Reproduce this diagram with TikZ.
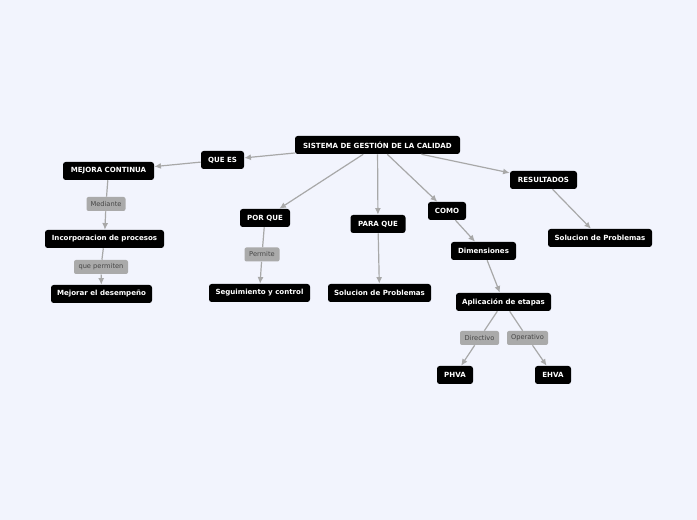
\documentclass[tikz,border=0pt]{standalone}
\usepackage{fontspec}
\setmainfont{DejaVu Sans}
\usetikzlibrary{arrows.meta}
\definecolor{bg}{RGB}{242,244,253}
\definecolor{edge}{RGB}{168,168,168}
\definecolor{lab}{RGB}{170,170,170}
\definecolor{labtxt}{RGB}{70,70,70}
\begin{document}
\begin{tikzpicture}[x=0.75pt,y=-0.75pt,
 box/.style={fill=black, rounded corners=2pt, text=white, font=\fontsize{5.3}{6}\selectfont\bfseries, minimum height=13.5pt, inner sep=0pt},
 lbl/.style={fill=lab, rounded corners=1.5pt, text=labtxt, font=\fontsize{5}{6}\selectfont, minimum height=10.5pt, inner sep=0pt},
 conn/.style={draw=edge, line width=0.9pt, -{Latex[length=5pt,width=4.5pt]}},
 plain/.style={draw=edge, line width=0.9pt}]
\path[fill=bg, use as bounding box] (0,0) rectangle (697,520);

\node[box, minimum width=123.75pt] (sgc) at (377.5,145) {SISTEMA DE GESTIÓN DE LA CALIDAD};
\node[box, minimum width=32.25pt] (quees) at (222.5,160) {QUE ES};
\node[box, minimum width=68.25pt] (mejora) at (108.5,171) {MEJORA CONTINUA};
\node[lbl, minimum width=29.25pt] (mediante) at (106,204) {Mediante};
\node[box, minimum width=89.25pt] (incorp) at (104.5,239) {Incorporacion de procesos};
\node[lbl, minimum width=40.5pt] (permiten) at (101,267) {que permiten};
\node[box, minimum width=75.75pt] (mejorar) at (101.5,294) {Mejorar el desempeño};

\node[box, minimum width=37.5pt] (porque) at (265,218) {POR QUE};
\node[lbl, minimum width=26.25pt] (permite) at (262,254.5) {Permite};
\node[box, minimum width=75.75pt] (seguim) at (259.5,293) {Seguimiento y control};

\node[box, minimum width=41.25pt] (paraque) at (378,224) {PARA QUE};
\node[box, minimum width=77.25pt] (sol1) at (379.5,293) {Solucion de Problemas};

\node[box, minimum width=28.5pt] (como) at (447,211) {COMO};
\node[box, minimum width=48.75pt] (dim) at (483.5,251) {Dimensiones};
\node[box, minimum width=71.25pt] (aplic) at (503.5,302) {Aplicación de etapas};
\node[lbl, minimum width=29.25pt] (direct) at (479.5,338) {Directivo};
\node[lbl, minimum width=30.75pt] (operat) at (527.5,338) {Operativo};
\node[box, minimum width=27pt] (phva) at (455,375) {PHVA};
\node[box, minimum width=27pt] (ehva) at (553,375) {EHVA};

\node[box, minimum width=50.25pt] (result) at (543.5,180) {RESULTADOS};
\node[box, minimum width=78pt] (sol2) at (600,238) {Solucion de Problemas};

\draw[conn] (sgc) -- (quees);
\draw[conn] (quees) -- (mejora);
\draw[plain] (mejora) -- (mediante);
\draw[conn] (mediante) -- (incorp);
\draw[plain] (incorp) -- (permiten);
\draw[conn] (permiten) -- (mejorar);

\draw[conn] (sgc) -- (porque);
\draw[plain] (porque) -- (permite);
\draw[conn] (permite) -- (seguim);

\draw[conn] (sgc) -- (paraque);
\draw[conn] (paraque) -- (sol1);

\draw[conn] (sgc) -- (como);
\draw[conn] (como) -- (dim);
\draw[conn] (dim) -- (aplic);
\draw[plain] (aplic) -- (direct);
\draw[conn] (direct) -- (phva);
\draw[plain] (aplic) -- (operat);
\draw[conn] (operat) -- (ehva);

\draw[conn] (sgc) -- (result);
\draw[conn] (result) -- (sol2);
\end{tikzpicture}
\end{document}
